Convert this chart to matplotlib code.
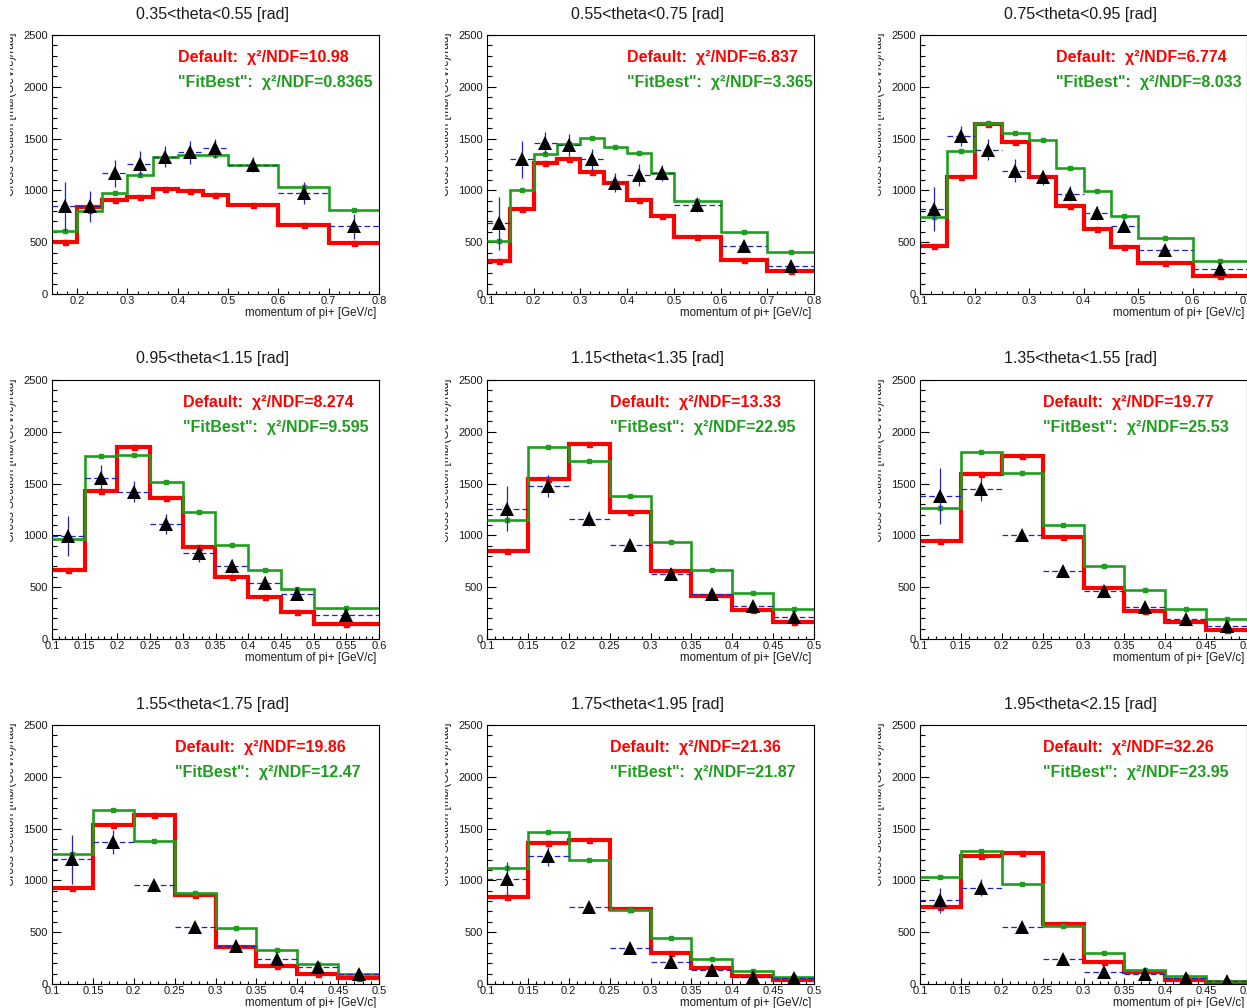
import matplotlib
matplotlib.use("Agg")
import numpy as np
import matplotlib.pyplot as plt
from matplotlib.ticker import MultipleLocator, FuncFormatter
from matplotlib.transforms import Bbox, TransformedBbox

plt.rcParams['font.family'] = ['Liberation Sans', 'DejaVu Sans']

# ---------------------------------------------------------------- data
titles = ["0.35<theta<0.55 [rad]", "0.55<theta<0.75 [rad]", "0.75<theta<0.95 [rad]",
          "0.95<theta<1.15 [rad]", "1.15<theta<1.35 [rad]", "1.35<theta<1.55 [rad]",
          "1.55<theta<1.75 [rad]", "1.75<theta<1.95 [rad]", "1.95<theta<2.15 [rad]"]

edges_1 = [0.15, 0.20, 0.25, 0.30, 0.35, 0.40, 0.45, 0.50, 0.60, 0.70, 0.80]
edges_2 = [0.10, 0.15, 0.20, 0.25, 0.30, 0.35, 0.40, 0.45, 0.50, 0.60, 0.70, 0.80]
edges_3 = [0.10, 0.15, 0.20, 0.25, 0.30, 0.35, 0.40, 0.45, 0.50, 0.60, 0.70]
edges_4 = [0.10, 0.15, 0.20, 0.25, 0.30, 0.35, 0.40, 0.45, 0.50, 0.60]
edges_5 = [0.10, 0.15, 0.20, 0.25, 0.30, 0.35, 0.40, 0.45, 0.50]

default_1 = [498, 835, 905, 938, 1018, 999, 958, 855, 668, 488]
fitbest_1 = [612, 805, 974, 1150, 1321, 1337, 1337, 1250, 1028, 810]
data_1 = [845, 845, 1166, 1256, 1327, 1369, 1407, 1250, 974, 652]
err_1 = [236, 153, 132, 120, 100, 112, 90, 75, 108, 120]

default_2 = [321, 819, 1269, 1301, 1182, 1076, 903, 749, 546, 331, 219]
fitbest_2 = [514, 1006, 1353, 1446, 1504, 1417, 1359, 1166, 893, 598, 405]
data_2 = [684, 1301, 1456, 1440, 1301, 1076, 1150, 1166, 862, 466, 267]
err_2 = [257, 177, 108, 104, 100, 88, 103, 77, 72, 56, 48]

default_3 = [466, 1128, 1642, 1472, 1125, 845, 627, 453, 299, 177]
fitbest_3 = [742, 1385, 1655, 1558, 1488, 1215, 990, 755, 540, 315]
data_3 = [819, 1526, 1391, 1192, 1125, 967, 781, 659, 427, 241]
err_3 = [214, 100, 101, 113, 72, 72, 64, 64, 53, 43]

default_4 = [666, 1432, 1856, 1358, 885, 595, 402, 257, 145]
fitbest_4 = [965, 1766, 1776, 1519, 1223, 907, 666, 483, 296]
data_4 = [994, 1557, 1422, 1110, 827, 705, 544, 434, 232]
err_4 = [196, 121, 101, 100, 80, 64, 64, 56, 48]

default_5 = [852, 1544, 1886, 1226, 653, 412, 277, 161]
fitbest_5 = [1146, 1853, 1722, 1384, 937, 669, 444, 290]
data_5 = [1258, 1474, 1162, 911, 628, 434, 315, 209]
err_5 = [220, 105, 72, 51, 56, 48, 39, 32]

default_6 = [946, 1589, 1770, 988, 489, 274, 161, 90]
fitbest_6 = [1264, 1805, 1603, 1103, 707, 473, 293, 190]
data_6 = [1383, 1448, 1000, 658, 467, 313, 190, 126]
err_6 = [272, 116, 56, 48, 56, 39, 39, 32]

default_7 = [929, 1539, 1635, 861, 355, 177, 97, 55]
fitbest_7 = [1258, 1684, 1377, 881, 542, 332, 194, 97]
data_7 = [1203, 1371, 952, 548, 371, 242, 161, 97]
err_7 = [239, 118, 55, 39, 48, 42, 39, 32]

default_8 = [839, 1365, 1394, 726, 297, 155, 81, 42]
fitbest_8 = [1123, 1468, 1200, 710, 442, 242, 123, 71]
data_8 = [1010, 1232, 742, 348, 210, 135, 71, 55]
err_8 = [169, 89, 48, 40, 42, 39, 39, 40]

default_9 = [748, 1232, 1268, 581, 216, 113, 42, 16]
fitbest_9 = [1032, 1284, 968, 558, 297, 139, 81, 32]
data_9 = [806, 929, 548, 242, 119, 97, 55, 32]
err_9 = [122, 80, 48, 42, 48, 48, 32, 35]

chi2_default = ["10.98", "6.837", "6.774", "8.274", "13.33", "19.77", "19.86", "21.36", "32.26"]
chi2_fitbest = ["0.8365", "3.365", "8.033", "9.595", "22.95", "25.53", "12.47", "21.87", "23.95"]

edges = [edges_1, edges_2, edges_3, edges_4, edges_5, edges_5, edges_5, edges_5, edges_5]
defaults = [default_1, default_2, default_3, default_4, default_5, default_6, default_7, default_8, default_9]
fitbests = [fitbest_1, fitbest_2, fitbest_3, fitbest_4, fitbest_5, fitbest_6, fitbest_7, fitbest_8, fitbest_9]
datas = [data_1, data_2, data_3, data_4, data_5, data_6, data_7, data_8, data_9]
errs = [err_1, err_2, err_3, err_4, err_5, err_6, err_7, err_8, err_9]

# ---------------------------------------------------------------- layout
W, H = 1247, 1008
col_left = [52, 487, 920]
row_top = [35, 380, 725]
ax_w, ax_h = 327, 259
label_x = [0.40, 0.40, 0.35, 0.30, 0.25, 0.25, 0.25, 0.25, 0.25]

RED = '#ff0000'
GREEN = '#1e9e1e'
BLUE = '#2020c8'
TXT = '#1a1a1a'

fig = plt.figure(figsize=(W / 100, H / 100), dpi=100)

for i in range(9):
    r, c = divmod(i, 3)
    left = col_left[c]
    top = row_top[r]
    ax = fig.add_axes([left / W, 1 - (top + ax_h) / H, ax_w / W, ax_h / H])

    e = np.array(edges[i])
    centers = 0.5 * (e[:-1] + e[1:])
    lo = e[:-1]
    hi = e[1:]

    # model histograms
    ax.stairs(defaults[i], e, baseline=None, color=RED, lw=3.0, zorder=2)
    ax.plot(centers, defaults[i], 's', color=RED, ms=3.6, zorder=2.1)
    ax.stairs(fitbests[i], e, baseline=None, color=GREEN, lw=1.9, zorder=3)
    ax.plot(centers, fitbests[i], 's', color=GREEN, ms=3.0, zorder=3.1)

    # measured points
    ax.hlines(datas[i], lo, hi, colors=BLUE, lw=0.9, linestyles=(0, (4.5, 2.5)), zorder=4)
    ax.errorbar(centers, datas[i], yerr=errs[i], fmt='none', ecolor=BLUE,
                elinewidth=0.9, capsize=0, zorder=4)
    ax.plot(centers, datas[i], '^', color='black', ms=9.5, mew=0, zorder=5)

    ax.set_xlim(e[0], e[-1])
    ax.set_ylim(0, 2500)

    ax.yaxis.set_major_locator(MultipleLocator(500))
    ax.yaxis.set_minor_locator(MultipleLocator(100))
    if e[-1] - e[0] > 0.55:
        ax.xaxis.set_major_locator(MultipleLocator(0.1))
        ax.xaxis.set_minor_locator(MultipleLocator(0.02))
    else:
        ax.xaxis.set_major_locator(MultipleLocator(0.05))
        ax.xaxis.set_minor_locator(MultipleLocator(0.01))
    ax.xaxis.set_major_formatter(FuncFormatter(lambda v, p: ('%.2f' % v).rstrip('0')))

    ax.tick_params(which='both', direction='in', top=False, right=False,
                   width=0.8, colors='black', labelcolor=TXT, labelsize=8)
    ax.tick_params(axis='y', which='major', length=6.5, pad=3)
    ax.tick_params(axis='y', which='minor', length=3.3)
    ax.tick_params(axis='x', which='major', length=4.5, pad=1.5)
    ax.tick_params(axis='x', which='minor', length=2.4)
    for s in ax.spines.values():
        s.set_linewidth(0.8)

    ax.set_xlabel("momentum of pi+ [GeV/c]", fontsize=8.3, color=TXT, loc='right')
    ax.xaxis.set_label_coords(0.992, -0.073)
    ax.xaxis.label.set_va('center')

    ax.text(0.49, 1 + 21 / ax_h, titles[i], transform=ax.transAxes,
            ha='center', va='center', fontsize=11.5, color=TXT)

    ax.text(label_x[i], 2240, "Default:  \u03c7\u00b2/NDF=" + chi2_default[i],
            color=RED, fontsize=11.5, fontweight='bold', ha='left', va='baseline')
    ax.text(label_x[i], 1995, "\"FitBest\":  \u03c7\u00b2/NDF=" + chi2_fitbest[i],
            color=GREEN, fontsize=11.5, fontweight='bold', ha='left', va='baseline')

    # y-axis title, partly cut off at the pad edge
    yt = fig.text((left - 35) / W, 1 - (top - 2) / H, "Cross Section [mb/(GeV/c)/rad]",
                  rotation=90, ha='right', va='top', fontsize=8.5, color=TXT, clip_on=True)
    clip = TransformedBbox(Bbox.from_extents((left - 42) / W, 0, (left - 20) / W, 1),
                           fig.transFigure)
    yt.set_clip_box(clip)

fig.savefig("out.png", dpi=100)
